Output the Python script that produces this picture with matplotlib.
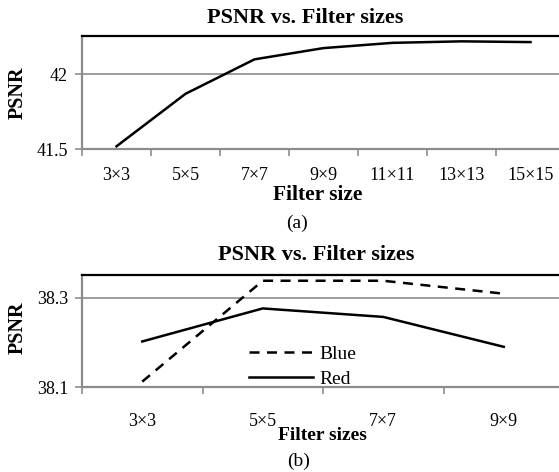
import numpy as np
import matplotlib.pyplot as plt

plt.rcParams['font.family'] = ['Liberation Serif', 'DejaVu Serif']

# (a) PSNR vs filter size
sizes_a = ['3×3', '5×5', '7×7', '9×9', '11×11', '13×13', '15×15']
psnr_a = [41.52, 41.87, 42.10, 42.175, 42.21, 42.22, 42.215]

# (b) PSNR vs filter size per channel
sizes_b = ['3×3', '5×5', '7×7', '9×9']
psnr_blue = [38.112, 38.338, 38.338, 38.309]
psnr_red = [38.202, 38.276, 38.257, 38.19]

W, H = 559, 472
fig = plt.figure(figsize=(W / 100, H / 100), dpi=100)

grey = '#8c8c8c'


def style(ax, n, ylim, yticks, pad):
    ax.set_xlim(-0.5, n - 0.5)
    ax.set_ylim(*ylim)
    ax.set_yticks(yticks)
    ax.set_yticklabels([str(t) for t in yticks], fontsize=13)
    ax.set_xticks(np.arange(n))
    ax.set_xticks(np.arange(n + 1) - 0.5, minor=True)
    ax.tick_params(axis='x', which='major', length=0, pad=pad, labelsize=13)
    ax.tick_params(axis='x', which='minor', length=5, width=1.2, color=grey, direction='out')
    ax.tick_params(axis='y', length=5, width=1.2, color=grey, pad=5)
    ax.grid(axis='y', color=grey, linewidth=1.2)
    ax.spines['top'].set_linewidth(1.6)
    ax.spines['top'].set_color('black')
    ax.spines['right'].set_visible(False)
    ax.spines['left'].set_color(grey)
    ax.spines['left'].set_linewidth(1.6)
    ax.spines['bottom'].set_color(grey)
    ax.spines['bottom'].set_linewidth(1.6)
    ax.set_axisbelow(True)


# axes run a bit past the right edge of the figure (cropped like the original)
axa = fig.add_axes([82 / W, 1 - 149.3 / H, (565 - 82) / W, 113.8 / H])
axa.plot(np.arange(len(sizes_a)), psnr_a, color='black', linewidth=1.8)
axa.set_xticklabels(sizes_a)
style(axa, len(sizes_a), (41.5, 42.259), [41.5, 42], 12.5)

axb = fig.add_axes([82 / W, 1 - 387 / H, (564 - 82) / W, 112.5 / H])
xb = np.arange(len(sizes_b))
axb.plot(xb, psnr_blue, color='black', linewidth=1.8, linestyle=(0, (4, 3)), label='Blue')
axb.plot(xb, psnr_red, color='black', linewidth=1.8, label='Red')
axb.set_xticklabels(sizes_b)
style(axb, len(sizes_b), (38.1, 38.352), [38.1, 38.3], 19)
axb.legend(loc='upper left', bbox_to_anchor=(249 / W, 1 - 345 / H),
           bbox_transform=fig.transFigure, frameon=False, fontsize=14,
           borderpad=0, borderaxespad=0, handlelength=3.3, handletextpad=0.3,
           labelspacing=0.4)

fig.text(305 / W, 1 - 18 / H, 'PSNR vs. Filter sizes', ha='center', va='center',
         fontsize=16, fontweight='bold')
fig.text(18 / W, 1 - 93 / H, 'PSNR', rotation=90, ha='center', va='center',
         fontsize=14.5, fontweight='bold')
fig.text(318 / W, 1 - 195 / H, 'Filter size', ha='center', va='center',
         fontsize=15.5, fontweight='bold')
fig.text(297 / W, 1 - 223 / H, '(a)', ha='center', va='center', fontsize=14)

fig.text(316 / W, 1 - 255 / H, 'PSNR vs. Filter sizes', ha='center', va='center',
         fontsize=16, fontweight='bold')
fig.text(18 / W, 1 - 328 / H, 'PSNR', rotation=90, ha='center', va='center',
         fontsize=14.5, fontweight='bold')
fig.text(322 / W, 1 - 436 / H, 'Filter sizes', ha='center', va='center',
         fontsize=14, fontweight='bold')
fig.text(299 / W, 1 - 461 / H, '(b)', ha='center', va='center', fontsize=14)

fig.savefig('out.png', dpi=100)
